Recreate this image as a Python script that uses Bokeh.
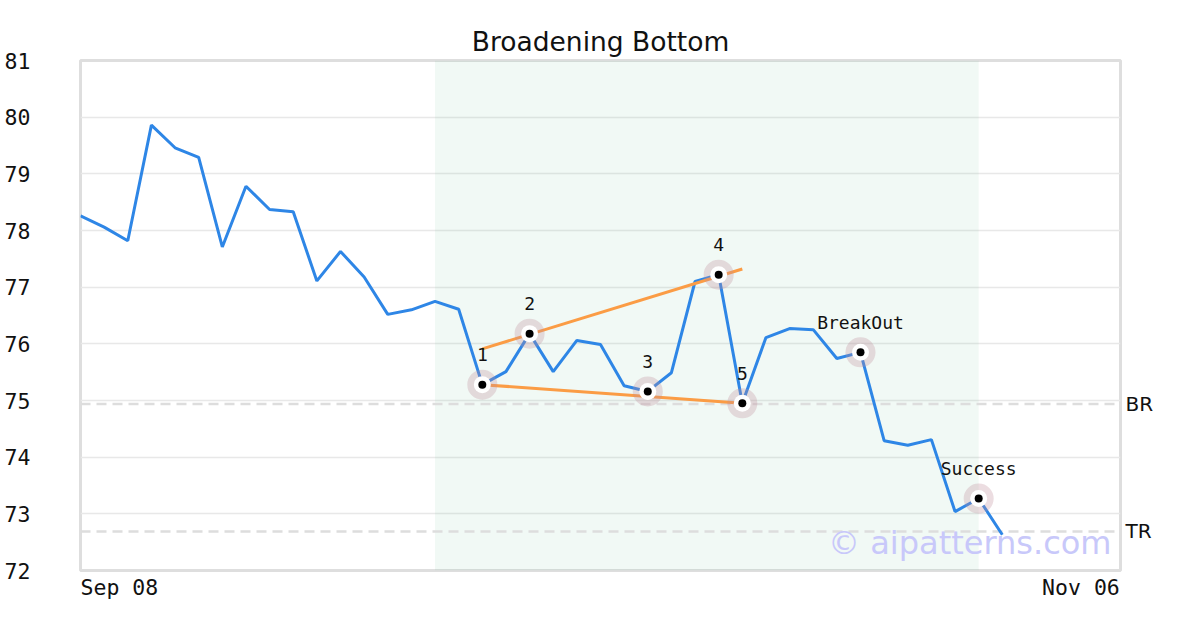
from bokeh.plotting import figure
from bokeh.models import ColumnDataSource, FixedTicker, Span, BoxAnnotation, Label, LinearAxis, Range1d
from bokeh.core.properties import value
from bokeh.embed import file_html
from bokeh.resources import INLINE

# ---- data ----
prices = [78.26, 78.06, 77.82, 79.86, 79.46, 79.29, 77.71, 78.78, 78.37, 78.33,
          77.11, 77.63, 77.18, 76.52, 76.60, 76.75, 76.61, 75.28, 75.51, 76.18,
          75.51, 76.06, 75.99, 75.26, 75.16, 75.49, 77.10, 77.22, 74.95, 76.11,
          76.27, 76.25, 75.74, 75.85, 74.29, 74.21, 74.31, 73.04, 73.27, 72.63]
days = list(range(len(prices)))

point_idx = [17, 19, 24, 27, 28, 33, 38]
point_labels = ["1", "2", "3", "4", "5", "BreakOut", "Success"]

upper_x = [17, 28]
upper_y = [75.91, 77.32]
lower_x = [17, 28]
lower_y = [75.28, 74.95]

pattern_start, pattern_end = 15, 38
br_level = 74.94
tr_level = 72.69
level_names = ["BR", "TR"]

x_min, x_max = 0, 44
y_min, y_max = 72, 81
y_ticks = list(range(72, 82))
x_ticks = [0, 44]
x_tick_labels = ["Sep 08", "Nov 06"]

title_text = "Broadening Bottom"
watermark = "\u00a9 aipatterns.com"

MONO = "DejaVu Sans Mono"
SANS = "DejaVu Sans"
NB = "\u00a0"

p = figure(width=1184, height=614, output_backend="svg", toolbar_location=None,
           x_range=Range1d(x_min, x_max), y_range=Range1d(y_min, y_max),
           min_border_left=80, min_border_right=64, min_border_top=60, min_border_bottom=44,
           x_axis_location="below", y_axis_location="left")

p.title.text = title_text
p.title.align = "center"
p.title.text_font = SANS
p.title.text_font_size = "26.5px"
p.title.text_font_style = "normal"
p.title.text_color = "#111111"
p.title.standoff = 7

p.outline_line_color = "#dedede"
p.outline_line_width = 3
p.background_fill_color = "white"
p.border_fill_color = "white"

# y axis
ya = p.yaxis[0]
ya.ticker = FixedTicker(ticks=y_ticks)
ya.axis_line_color = None
ya.major_tick_line_color = None
ya.minor_tick_line_color = None
ya.major_tick_out = 0
ya.major_label_standoff = 50
ya.major_label_text_font = MONO
ya.major_label_text_font_size = "21.5px"
ya.major_label_text_color = "#111111"

# x axis: first label sits to the right of its tick, last to the left
xa = p.xaxis[0]
xa.ticker = FixedTicker(ticks=x_ticks)
xa.major_label_overrides = {x_ticks[0]: NB * len(x_tick_labels[0]) + x_tick_labels[0],
                            x_ticks[1]: x_tick_labels[1] + NB * (len(x_tick_labels[1]) - 1)}
xa.axis_line_color = None
xa.major_tick_line_color = None
xa.minor_tick_line_color = None
xa.major_tick_out = 0
xa.major_label_standoff = 4
xa.major_label_text_font = MONO
xa.major_label_text_font_size = "21.5px"
xa.major_label_text_color = "#111111"

p.ygrid.ticker = FixedTicker(ticks=y_ticks)
p.ygrid.grid_line_color = "#e8e8e8"
p.ygrid.grid_line_width = 1.5
p.xgrid.grid_line_color = None

# right axis with BR / TR
ra = LinearAxis(ticker=FixedTicker(ticks=[br_level, tr_level]),
                major_label_overrides={br_level: level_names[0], tr_level: level_names[1]})
ra.axis_line_color = None
ra.major_tick_line_color = None
ra.minor_tick_line_color = None
ra.major_tick_out = 0
ra.major_label_standoff = 5
ra.major_label_text_font = SANS
ra.major_label_text_font_size = "20px"
ra.major_label_text_color = "#111111"
p.add_layout(ra, "right")

# shaded pattern region
box = BoxAnnotation(left=pattern_start, right=pattern_end, fill_color="#5fb894", fill_alpha=0.09,
                    line_color=None, level="underlay")
p.add_layout(box)

for lvl in (br_level, tr_level):
    p.add_layout(Span(location=lvl, dimension="width", line_color="#dddddd",
                      line_width=2.5, line_dash="10 6", level="underlay"))

# watermark
p.add_layout(Label(x=x_max, y=72.49, x_offset=-9, text=watermark, text_align="right",
                   text_baseline="middle", text_font=SANS, text_font_size="32px",
                   text_color="#c8c8fa", level="underlay"))

# price line
p.line(days, prices, line_color="#2e86e6", line_width=3)

# trend lines
p.line(upper_x, upper_y, line_color="#fb9c45", line_width=3)
p.line(lower_x, lower_y, line_color="#fb9c45", line_width=3)

pts = ColumnDataSource(dict(x=point_idx, y=[prices[i] for i in point_idx], label=point_labels))
p.scatter("x", "y", source=pts, size=30, fill_color="#c08e9b", fill_alpha=0.3, line_color=None)
p.scatter("x", "y", source=pts, size=17, fill_color="white", line_color=None)
p.scatter("x", "y", source=pts, size=8, fill_color="black", line_color=None)
p.text("x", "y", text="label", source=pts, y_offset=-30, text_align="center",
       text_baseline="middle", text_font=value(MONO), text_font_size="18px", text_color="#111111")

open("out.html", "w").write(file_html(p, INLINE))
